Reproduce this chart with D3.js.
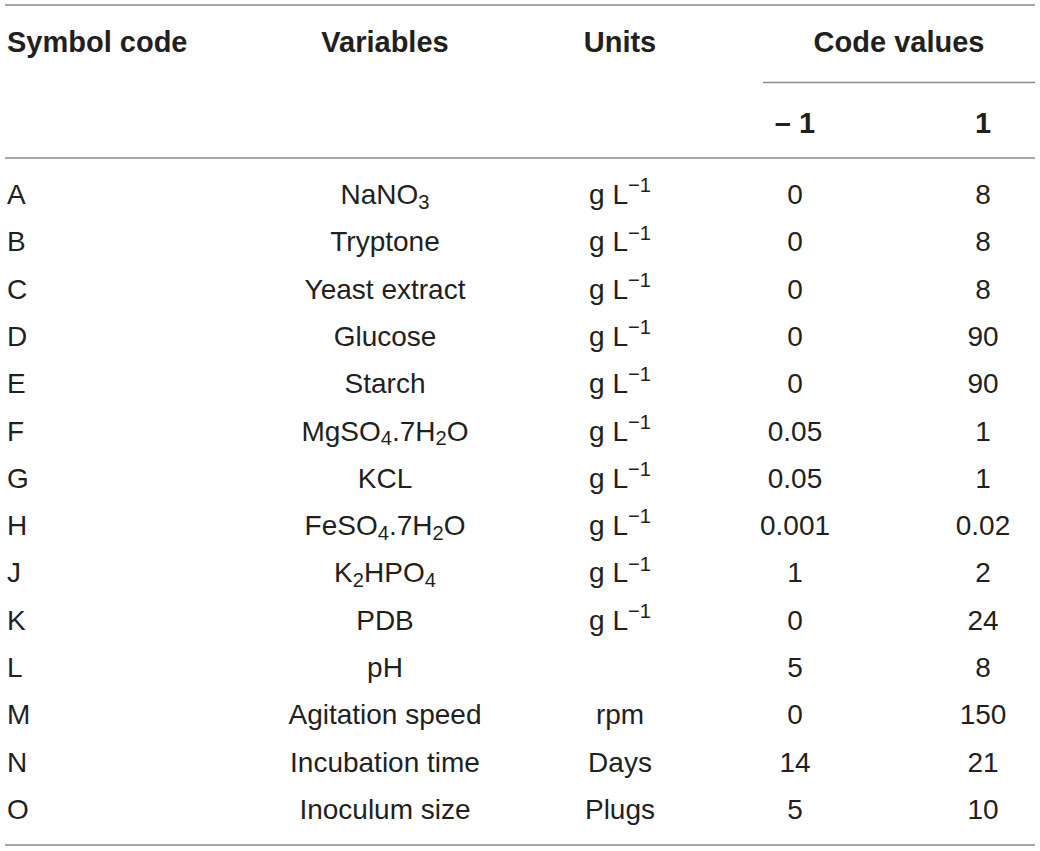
<!DOCTYPE html>
<html>
<head>
<meta charset="utf-8">
<script src="https://cdn.jsdelivr.net/npm/d3@7"></script>
<style>
  body { margin: 0; background: #fff; }
  text { font-family: "Liberation Sans", Arial, Helvetica, sans-serif; fill: #231f20; }
</style>
</head>
<body>
<div id="table"></div>
<script>
// Table content
var symbols = ["A", "B", "C", "D", "E", "F", "G", "H", "J", "K", "L", "M", "N", "O"];
var variables = ["NaNO_{3}", "Tryptone", "Yeast extract", "Glucose", "Starch",
    "MgSO_{4}.7H_{2}O", "KCL", "FeSO_{4}.7H_{2}O", "K_{2}HPO_{4}", "PDB", "pH",
    "Agitation speed", "Incubation time", "Inoculum size"];
var units = ["g L^{\u22121}", "g L^{\u22121}", "g L^{\u22121}", "g L^{\u22121}", "g L^{\u22121}",
    "g L^{\u22121}", "g L^{\u22121}", "g L^{\u22121}", "g L^{\u22121}", "g L^{\u22121}", "",
    "rpm", "Days", "Plugs"];
var lowValues = ["0", "0", "0", "0", "0", "0.05", "0.05", "0.001", "1", "0", "5", "0", "14", "5"];
var highValues = ["8", "8", "8", "90", "90", "1", "1", "0.02", "2", "24", "8", "150", "21", "10"];
var headers = ["Symbol code", "Variables", "Units"];
var codeHeader = "Code values";
var codeLevels = ["\u2013 1", "1"];

var svgWidth = 1040;
var svgHeight = 851;
var fontSize = 28;

var svg = d3.select("#table")
    .append("svg")
    .attr("width", svgWidth)
    .attr("height", svgHeight);

// column positions
var colX = d3.scaleOrdinal()
    .domain(["symbol", "variable", "unit", "low", "high"])
    .range([7, 385, 620, 795, 983]);

// row baselines
var rowY = d3.scalePoint()
    .domain(symbols)
    .range([204, 819]);

// split "X_{2}" / "^{-1}" markup into segments
function parseRich(str) {
    var parts = [];
    var re = /([_^])\{([^}]*)\}/g;
    var last = 0, m;
    while ((m = re.exec(str)) !== null) {
        if (m.index > last) parts.push({ t: str.slice(last, m.index), k: "n" });
        parts.push({ t: m[2], k: m[1] == "_" ? "sub" : "sup" });
        last = re.lastIndex;
    }
    if (last < str.length) parts.push({ t: str.slice(last), k: "n" });
    return parts;
}

var shift = { n: 0, sub: 0.17 * fontSize, sup: -0.42 * fontSize };

function richText(sel, str) {
    var cur = 0;
    parseRich(str).forEach(function(p) {
        var target = shift[p.k];
        sel.append("tspan")
            .attr("dy", target - cur)
            .style("font-size", p.k == "n" ? fontSize + "px" : (fontSize * 0.72) + "px")
            .text(p.t);
        cur = target;
    });
}

// rules
var lineColor = "#8a8a8a";
svg.append("g")
    .selectAll("line")
    .data([
        { x1: 5, x2: 1035, y: 5 },
        { x1: 763, x2: 1035, y: 82.5 },
        { x1: 5, x2: 1035, y: 158 },
        { x1: 5, x2: 1035, y: 845 }
    ])
    .enter()
    .append("line")
    .attr("x1", d => d.x1)
    .attr("x2", d => d.x2)
    .attr("y1", d => d.y)
    .attr("y2", d => d.y)
    .attr("stroke", lineColor)
    .attr("stroke-width", 1.6);

// header
var head = svg.append("g")
    .style("font-weight", "bold")
    .style("font-size", "29px");

head.selectAll("text.h")
    .data(headers)
    .enter()
    .append("text")
    .attr("class", "h")
    .attr("x", (d, i) => colX(["symbol", "variable", "unit"][i]))
    .attr("y", 52)
    .attr("text-anchor", (d, i) => i == 0 ? "start" : "middle")
    .text(d => d);

head.append("text")
    .attr("x", 899)
    .attr("y", 52)
    .attr("text-anchor", "middle")
    .text(codeHeader);

head.selectAll("text.lvl")
    .data(codeLevels)
    .enter()
    .append("text")
    .attr("class", "lvl")
    .attr("x", (d, i) => colX(i == 0 ? "low" : "high"))
    .attr("y", 133)
    .attr("text-anchor", "middle")
    .text(d => d);

// body rows
var body = svg.append("g").style("font-size", fontSize + "px");

var rows = body.selectAll("g.row")
    .data(symbols.map(function(s, i) {
        return { symbol: s, variable: variables[i], unit: units[i], low: lowValues[i], high: highValues[i] };
    }))
    .enter()
    .append("g")
    .attr("class", "row")
    .attr("transform", d => `translate(0, ${rowY(d.symbol)})`);

rows.append("text")
    .attr("x", colX("symbol"))
    .text(d => d.symbol);

rows.append("text")
    .attr("x", colX("variable"))
    .attr("text-anchor", "middle")
    .each(function(d) { richText(d3.select(this), d.variable); });

rows.append("text")
    .attr("x", colX("unit"))
    .attr("text-anchor", "middle")
    .each(function(d) { richText(d3.select(this), d.unit); });

rows.append("text")
    .attr("x", colX("low"))
    .attr("text-anchor", "middle")
    .text(d => d.low);

rows.append("text")
    .attr("x", colX("high"))
    .attr("text-anchor", "middle")
    .text(d => d.high);
</script>
</body>
</html>
